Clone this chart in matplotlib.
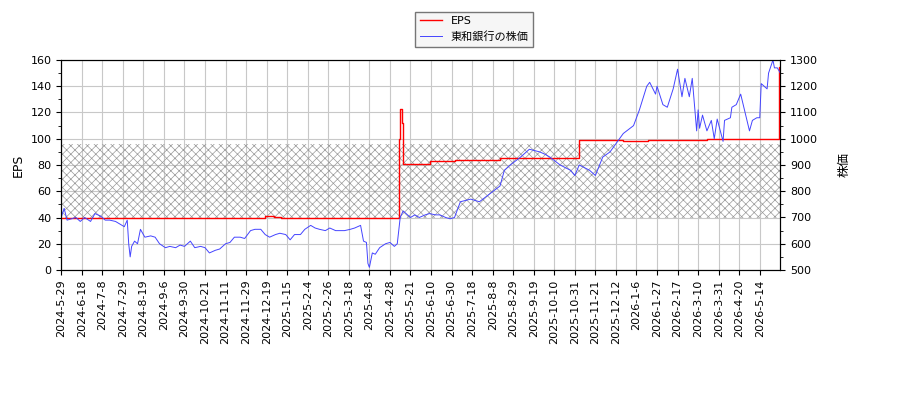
import matplotlib
matplotlib.use('Agg')
import matplotlib.pyplot as plt

plt.rcParams['font.family'] = ['DejaVu Sans', 'Noto Sans CJK JP']
plt.rcParams['hatch.linewidth'] = 0.5

tick_labels = ['2024-5-29', '2024-6-18', '2024-7-8', '2024-7-29', '2024-8-19', '2024-9-6',
               '2024-9-30', '2024-10-21', '2024-11-11', '2024-11-29', '2024-12-19', '2025-1-15',
               '2025-2-4', '2025-2-26', '2025-3-18', '2025-4-8', '2025-4-28', '2025-5-21',
               '2025-6-10', '2025-6-30', '2025-7-18', '2025-8-8', '2025-8-29', '2025-9-19',
               '2025-10-10', '2025-10-31', '2025-11-21', '2025-12-12', '2026-1-6', '2026-1-27',
               '2026-2-17', '2026-3-10', '2026-3-31', '2026-4-20', '2026-5-14']

# trading-day index and value
eps_day = [0, 139, 145, 150, 229, 230, 231, 232, 233, 251, 268, 279, 299, 352, 353, 383, 400, 440, 488, 489, 490]
eps_val = [40, 41, 40.5, 40, 40, 100, 123, 112, 81, 83, 83.5, 84, 85, 85, 99, 98, 99, 100, 100, 155, 155]

price_day = [0, 2, 4, 10, 13, 16, 20, 23, 27, 30, 33, 37, 40, 43, 45, 46, 47, 48, 50, 52, 54, 57,
             61, 64, 67, 71, 74, 78, 81, 84, 88, 91, 95, 98, 101, 105, 108, 112, 115, 118, 122,
             125, 129, 132, 136, 139, 142, 146, 149, 153, 156, 159, 163, 166, 170, 173, 176, 180,
             183, 187, 190, 193, 197, 200, 204, 206, 208, 209, 210, 212, 214, 217, 221, 224, 227,
             229, 231, 233, 238, 241, 244, 248, 251, 255, 258, 262, 265, 268, 272, 279, 285, 292,
             299, 302, 306, 313, 319, 326, 330, 333, 340, 347, 350, 353, 360, 364, 369, 374, 383,
             390, 394, 399, 401, 405, 406, 410, 413, 417, 420, 423, 425, 428, 430, 433, 434, 435,
             437, 440, 443, 445, 447, 451, 452, 456, 457, 460, 463, 466, 469, 471, 474, 476, 477,
             481, 482, 485, 486, 488, 490]
price_val = [700, 735, 690, 700, 685, 700, 685, 715, 705, 690, 690, 685, 675, 665, 690, 600, 550,
             590, 610, 600, 655, 625, 630, 625, 600, 585, 590, 585, 595, 590, 610, 585, 590, 585,
             565, 575, 580, 600, 605, 625, 625, 620, 650, 655, 655, 635, 625, 635, 640, 635, 615,
             635, 635, 655, 670, 660, 655, 650, 660, 650, 650, 650, 655, 660, 670, 610, 605, 525,
             510, 565, 560, 585, 600, 605, 590, 600, 700, 725, 700, 710, 700, 710, 715, 710, 710,
             700, 695, 700, 760, 770, 760, 790, 820, 880, 900, 930, 960, 950, 940, 930, 900, 880,
             860, 900, 880, 860, 930, 950, 1020, 1050, 1110, 1200, 1215, 1170, 1200, 1130, 1120,
             1190, 1265, 1160, 1230, 1160, 1230, 1030, 1110, 1040, 1090, 1030, 1070, 1000, 1075,
             990, 1070, 1080, 1120, 1130, 1170, 1100, 1030, 1070, 1080, 1080, 1210, 1190, 1250,
             1300, 1270, 1270, 1250]

fig = plt.figure(figsize=(9, 4), dpi=100)
ax = fig.add_axes([0.068, 0.325, 0.799, 0.525])
ax2 = ax.twinx()

ax.axhspan(40, 96, facecolor='none', edgecolor='#999999', hatch='xxxx', linewidth=0, zorder=1)
l1, = ax.plot(eps_day, eps_val, color='red', lw=1, drawstyle='steps-post', label='EPS', zorder=3)
l2, = ax2.plot(price_day, price_val, color='#4444ff', lw=0.7, label='東和銀行の株価')

ax.set_ylim(0, 160)
ax.set_yticks(range(0, 161, 20))
ax.set_yticks(range(0, 161, 10), minor=True)
ax2.set_ylim(500, 1300)
ax2.set_yticks(range(500, 1301, 100))
ax2.set_yticks(range(500, 1301, 50), minor=True)
ax.set_xlim(0, 490)
ax.set_xticks([14 * i for i in range(len(tick_labels))])
ax.set_xticklabels(tick_labels, rotation=90, fontsize=8)
ax.tick_params(axis='y', labelsize=8)
ax2.tick_params(axis='y', labelsize=8)
ax.grid(True, color='#c8c8c8', lw=0.8)
ax.set_axisbelow(True)
ax.set_ylabel('EPS', fontsize=9)
ax2.set_ylabel('株価', fontsize=9, family=['Noto Sans CJK JP'], rotation=90, labelpad=14)

fig.legend([l1, l2], ['EPS', '東和銀行の株価'], loc='upper center', bbox_to_anchor=(0.527, 0.985),
           fontsize=8, fancybox=False, edgecolor='#555555', facecolor='#f4f4f4',
           prop={'family': ['DejaVu Sans', 'Noto Sans CJK JP'], 'size': 8})

fig.savefig('out.png')
